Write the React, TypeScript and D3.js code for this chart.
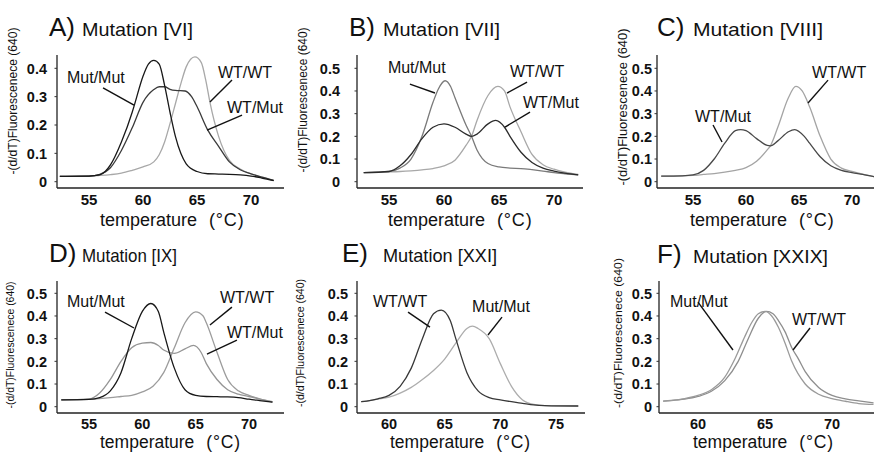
import React from 'react';
import * as d3 from 'd3';

type Pt = [number, number];

// ---------- Data (temperature °C, -(d/dT) fluorescence) ----------
// A) Mutation [VI]
const A_MUT_MUT: Pt[] = [[52.3,0.019],[54,0.02],[55,0.02],[56,0.024],[57,0.06],[58,0.14],[59,0.245],[59.2,0.27],[60,0.372],[60.5,0.415],[61,0.428],[61.5,0.415],[62,0.34],[62.5,0.245],[63,0.16],[63.5,0.1],[64,0.063],[65,0.036],[66,0.028],[67,0.027],[68,0.026],[69,0.024],[70,0.02],[71,0.013],[72.1,0.004]];
const A_WT_MUT: Pt[] = [[52.3,0.019],[55,0.02],[56,0.026],[57,0.05],[58,0.11],[59,0.19],[60,0.28],[61,0.325],[61.5,0.335],[62,0.335],[62.5,0.326],[63,0.322],[63.9,0.32],[64.5,0.3],[65,0.265],[66,0.182],[67,0.125],[68,0.07],[69,0.042],[70,0.028],[71,0.016],[72.1,0.005]];
const A_WT_WT: Pt[] = [[52.3,0.019],[55,0.02],[56,0.022],[57,0.025],[58,0.03],[59,0.04],[60,0.052],[61,0.07],[61.5,0.095],[62,0.14],[62.5,0.205],[63,0.275],[63.5,0.345],[64,0.405],[64.8,0.44],[65.4,0.42],[65.8,0.36],[66.2,0.28],[67,0.16],[68,0.075],[69,0.045],[70,0.028],[71,0.016],[72.1,0.005]];

// B) Mutation [VII]
const B_MUT_MUT: Pt[] = [[52.7,0.04],[54,0.042],[55,0.045],[56,0.06],[57,0.1],[58,0.2],[59,0.35],[59.5,0.41],[60.1,0.445],[60.6,0.42],[61,0.37],[62,0.25],[62.5,0.2],[63,0.14],[64,0.08],[65,0.065],[66,0.06],[67,0.058],[68,0.053],[69,0.047],[70,0.04],[71,0.035],[72.2,0.03]];
const B_WT_MUT: Pt[] = [[52.7,0.04],[55,0.045],[56,0.07],[57,0.12],[58,0.19],[59,0.24],[60,0.255],[61,0.24],[62,0.21],[62.5,0.2],[63,0.21],[64,0.255],[64.7,0.27],[65.5,0.24],[66,0.2],[67,0.13],[68,0.085],[69,0.06],[70,0.047],[71,0.038],[72.2,0.03]];
const B_WT_WT: Pt[] = [[52.7,0.04],[55,0.043],[56,0.045],[57,0.048],[58,0.052],[59,0.058],[60,0.07],[61,0.095],[62,0.16],[62.5,0.2],[63,0.27],[64,0.38],[64.9,0.42],[65.5,0.4],[66,0.33],[67,0.22],[68,0.12],[69,0.075],[70,0.055],[71,0.042],[72.2,0.032]];

// C) Mutation [VIII]
const C_WT_MUT: Pt[] = [[52,0.025],[54,0.026],[55,0.03],[56,0.05],[57,0.1],[58,0.17],[59,0.225],[59.5,0.23],[60,0.225],[61,0.19],[62,0.16],[62.3,0.158],[63,0.18],[64,0.22],[64.6,0.23],[65.5,0.2],[66,0.17],[67,0.11],[68,0.07],[69,0.05],[70,0.04],[71,0.032],[72.1,0.022]];
const C_WT_WT: Pt[] = [[52,0.025],[55,0.028],[56,0.032],[57,0.036],[58,0.042],[59,0.05],[60,0.062],[61,0.09],[62,0.14],[62.3,0.158],[63,0.24],[64,0.37],[64.7,0.42],[65.3,0.4],[66,0.33],[67,0.2],[68,0.1],[69,0.06],[70,0.045],[71,0.033],[72.1,0.022]];

// D) Mutation [IX]
const D_MUT_MUT: Pt[] = [[52.4,0.03],[55,0.032],[56,0.04],[57,0.07],[58,0.15],[59,0.3],[60,0.42],[60.8,0.455],[61.5,0.42],[62,0.33],[63,0.17],[64,0.075],[65,0.05],[66,0.045],[67,0.044],[68,0.043],[69,0.04],[70,0.033],[71,0.027],[72.2,0.02]];
const D_WT_MUT: Pt[] = [[52.4,0.03],[55,0.033],[56,0.06],[57,0.12],[58,0.2],[59,0.26],[60,0.28],[60.8,0.283],[61.5,0.27],[62,0.25],[63,0.235],[64,0.255],[64.8,0.27],[65.5,0.24],[66,0.19],[67,0.12],[68,0.075],[69,0.055],[70,0.045],[71,0.033],[72.2,0.02]];
const D_WT_WT: Pt[] = [[52.4,0.03],[55,0.033],[56,0.036],[57,0.04],[58,0.045],[59,0.05],[60,0.065],[61,0.09],[62,0.15],[63,0.26],[64,0.37],[65,0.418],[65.7,0.4],[66,0.37],[67,0.24],[68,0.12],[69,0.07],[70,0.05],[71,0.035],[72.2,0.022]];

// E) Mutation [XXI]
const E_WT_WT: Pt[] = [[57.5,0.022],[58,0.025],[59,0.035],[60,0.05],[61,0.09],[62,0.17],[63,0.3],[64,0.41],[64.7,0.426],[65.5,0.38],[66,0.3],[67,0.15],[68,0.07],[69,0.04],[70,0.03],[71,0.022],[72,0.015],[73,0.008],[74,0.005],[77,0.003]];
const E_MUT_MUT: Pt[] = [[57.5,0.022],[58,0.025],[59,0.033],[60,0.042],[61,0.06],[62,0.085],[63,0.12],[64,0.16],[65,0.21],[66,0.28],[67,0.345],[67.5,0.355],[68,0.345],[69,0.3],[70,0.19],[71,0.09],[72,0.03],[73,0.01],[74,0.005],[77,0.003]];

// F) Mutation [XXIX]
const F_MUT_MUT: Pt[] = [[57.4,0.025],[58,0.028],[59,0.036],[60,0.05],[61,0.075],[62,0.13],[62.75,0.21],[63.5,0.31],[64,0.37],[64.5,0.41],[65,0.42],[65.5,0.4],[66,0.35],[66.5,0.28],[67,0.2],[68,0.1],[69,0.055],[70,0.036],[71,0.024],[72,0.014],[73.1,0.01]];
const F_WT_WT: Pt[] = [[57.4,0.025],[58,0.027],[59,0.033],[60,0.045],[61,0.068],[62,0.115],[63,0.2],[63.75,0.3],[64.5,0.39],[65.1,0.42],[65.6,0.41],[66,0.38],[66.5,0.33],[67,0.26],[67.5,0.21],[68,0.155],[69,0.085],[70,0.05],[71,0.035],[72,0.026],[73.1,0.017]];

const X_TICKS_55 = [55, 60, 65, 70];
const X_TICKS_60 = [60, 65, 70, 75];
const X_TICKS_F = [60, 65, 70];
const Y_TICKS_04 = [0, 0.1, 0.2, 0.3, 0.4];
const Y_TICKS_05 = [0, 0.1, 0.2, 0.3, 0.4, 0.5];

const Y_LABEL = '-(d/dT)Fluorescenece (640)';
const X_LABEL = 'temperature';
const X_UNIT = '(°C)';

// ---------- Layout ----------
const FONT = 'Liberation Sans, Arial, Helvetica, sans-serif';

type Note = { text: string; at: Pt; from: Pt; to: Pt };
type Series = { data: Pt[]; color: string };
type Panel = {
  letter: string; title: string; titleLen: number;
  xTicks: number[]; xRef: Pt; xPx: Pt; axisX: Pt;
  yTicks: number[]; yRef: Pt; yPx: Pt; axisY: Pt;
  tickRight: number; xTickY: number;
  yLab: { cx: number; cy: number; len: number; size: number };
  letterX: number; titleX: number; titleY: number;
  xLabX: number; xLabY: number;
  series: Series[]; notes: Note[];
};

const PANELS: Panel[] = [
  {
    letter: 'A)', title: 'Mutation [VI]', titleLen: 111,
    xTicks: X_TICKS_55, xRef: [55, 70], xPx: [89, 251], axisX: [57, 284],
    yTicks: Y_TICKS_04, yRef: [0, 0.4], yPx: [181.7, 68.3], axisY: [55, 188],
    tickRight: 47, xTickY: 205,
    yLab: { cx: 13, cy: 101, len: 147, size: 12 },
    letterX: 49, titleX: 82, titleY: 36, xLabX: 100, xLabY: 225.5,
    series: [
      { data: A_WT_WT, color: '#a8a8a8' },
      { data: A_WT_MUT, color: '#3a3a3a' },
      { data: A_MUT_MUT, color: '#181818' },
    ],
    notes: [
      { text: 'Mut/Mut', at: [52.96, 0.347], from: [56.3, 0.331], to: [59.17, 0.27] },
      { text: 'WT/WT', at: [66.94, 0.366], from: [68.24, 0.359], to: [66.2, 0.281] },
      { text: 'WT/Mut', at: [67.78, 0.242], from: [69.17, 0.235], to: [65.93, 0.182] },
    ],
  },
  {
    letter: 'B)', title: 'Mutation [VII]', titleLen: 117,
    xTicks: X_TICKS_55, xRef: [55, 70], xPx: [389, 554], axisX: [357, 583],
    yTicks: Y_TICKS_05, yRef: [0, 0.5], yPx: [181.7, 68.3], axisY: [55, 188],
    tickRight: 340, xTickY: 205,
    yLab: { cx: 303, cy: 100, len: 145, size: 12 },
    letterX: 349, titleX: 383, titleY: 36, xLabX: 388, xLabY: 225.5,
    series: [
      { data: B_WT_WT, color: '#a8a8a8' },
      { data: B_MUT_MUT, color: '#7a7a7a' },
      { data: B_WT_MUT, color: '#2c2c2c' },
    ],
    notes: [
      { text: 'Mut/Mut', at: [54.9, 0.479], from: [56.9, 0.43], to: [59.18, 0.391] },
      { text: 'WT/WT', at: [66.0, 0.461], from: [67.55, 0.439], to: [65.73, 0.391] },
      { text: 'WT/Mut', at: [67.18, 0.325], from: [67.82, 0.307], to: [65.55, 0.241] },
    ],
  },
  {
    letter: 'C)', title: 'Mutation [VIII]', titleLen: 130,
    xTicks: X_TICKS_55, xRef: [55, 70], xPx: [693, 852], axisX: [657, 874],
    yTicks: Y_TICKS_05, yRef: [0, 0.5], yPx: [181.7, 68.3], axisY: [55, 188],
    tickRight: 652, xTickY: 205,
    yLab: { cx: 623, cy: 107, len: 157, size: 12.4 },
    letterX: 657, titleX: 693, titleY: 36, xLabX: 690, xLabY: 225.5,
    series: [
      { data: C_WT_WT, color: '#a4a4a4' },
      { data: C_WT_MUT, color: '#484848' },
    ],
    notes: [
      { text: 'WT/WT', at: [66.23, 0.457], from: [67.74, 0.448], to: [65.85, 0.347] },
      { text: 'WT/Mut', at: [55.19, 0.263], from: [56.89, 0.25], to: [57.74, 0.175] },
    ],
  },
  {
    letter: 'D)', title: 'Mutation [IX]', titleLen: 95,
    xTicks: X_TICKS_55, xRef: [55, 70], xPx: [89, 249], axisX: [57, 284],
    yTicks: Y_TICKS_05, yRef: [0, 0.5], yPx: [406.7, 293.3], axisY: [281, 413],
    tickRight: 47, xTickY: 429,
    yLab: { cx: 10, cy: 345, len: 127, size: 10.2 },
    letterX: 49, titleX: 82, titleY: 262, xLabX: 100, xLabY: 448,
    series: [
      { data: D_WT_WT, color: '#9c9c9c' },
      { data: D_WT_MUT, color: '#959595' },
      { data: D_MUT_MUT, color: '#181818' },
    ],
    notes: [
      { text: 'Mut/Mut', at: [52.94, 0.439], from: [56.5, 0.417], to: [59.22, 0.347] },
      { text: 'WT/WT', at: [67.28, 0.457], from: [68.4, 0.439], to: [66.34, 0.36] },
      { text: 'WT/Mut', at: [67.93, 0.303], from: [68.87, 0.294], to: [66.06, 0.232] },
    ],
  },
  {
    letter: 'E)', title: 'Mutation [XXI]', titleLen: 114,
    xTicks: X_TICKS_60, xRef: [60, 75], xPx: [389, 556], axisX: [357, 585],
    yTicks: Y_TICKS_05, yRef: [0, 0.5], yPx: [406.7, 293.3], axisY: [281, 413],
    tickRight: 348, xTickY: 429,
    yLab: { cx: 300, cy: 343, len: 128, size: 10.2 },
    letterX: 342, titleX: 383, titleY: 262, xLabX: 390, xLabY: 448,
    series: [
      { data: E_MUT_MUT, color: '#adadad' },
      { data: E_WT_WT, color: '#383838' },
    ],
    notes: [
      { text: 'WT/WT', at: [58.56, 0.439], from: [61.71, 0.417], to: [63.68, 0.351] },
      { text: 'Mut/Mut', at: [67.46, 0.417], from: [70.15, 0.395], to: [68.89, 0.316] },
    ],
  },
  {
    letter: 'F)', title: 'Mutation [XXIX]', titleLen: 135,
    xTicks: X_TICKS_F, xRef: [60, 70], xPx: [698, 832], axisX: [659, 874],
    yTicks: Y_TICKS_05, yRef: [0, 0.5], yPx: [406.7, 293.3], axisY: [281, 413],
    tickRight: 652, xTickY: 429,
    yLab: { cx: 618, cy: 333, len: 150, size: 11.8 },
    letterX: 657, titleX: 693, titleY: 263, xLabX: 693, xLabY: 448,
    series: [
      { data: F_WT_WT, color: '#8e8e8e' },
      { data: F_MUT_MUT, color: '#9a9a9a' },
    ],
    notes: [
      { text: 'Mut/Mut', at: [57.91, 0.439], from: [60.0, 0.461], to: [62.61, 0.25] },
      { text: 'WT/WT', at: [67.01, 0.36], from: [68.36, 0.347], to: [67.09, 0.25] },
    ],
  },
];

function PanelView({ p }: { p: Panel }) {
  const x = d3.scaleLinear().domain(p.xRef).range(p.xPx);
  const y = d3.scaleLinear().domain(p.yRef).range(p.yPx);
  const line = d3
    .line<Pt>()
    .x((d) => x(d[0]))
    .y((d) => y(d[1]))
    .curve(d3.curveMonotoneX);
  const fmt = (v: number) => (v === 0 ? '0' : d3.format('.1f')(v));
  const bottomRow = p.axisY[1] > 300;
  return (
    <g>
      {/* titles */}
      <text x={p.letterX} y={p.titleY} fontSize={26} fontFamily={FONT} fill="#111">
        {p.letter}
      </text>
      <text
        x={p.titleX}
        y={p.titleY}
        fontSize={19}
        fontFamily={FONT}
        fill="#111"
        textLength={p.titleLen}
        lengthAdjust="spacingAndGlyphs"
      >
        {p.title}
      </text>
      {/* y label */}
      <text
        transform={`translate(${p.yLab.cx},${p.yLab.cy}) rotate(-90)`}
        textAnchor="middle"
        dy="0.35em"
        fontSize={p.yLab.size}
        fontFamily={FONT}
        fill="#111"
        textLength={p.yLab.len}
        lengthAdjust="spacingAndGlyphs"
      >
        {Y_LABEL}
      </text>
      {/* curves */}
      {p.series.map((s, i) => (
        <path key={i} d={line(s.data) || ''} fill="none" stroke={s.color} strokeWidth={1.3} />
      ))}
      {/* axes */}
      <line x1={p.axisX[0]} x2={p.axisX[0]} y1={p.axisY[0]} y2={p.axisY[1]} stroke="#222" strokeWidth={1.3} />
      <line x1={p.axisX[0]} x2={p.axisX[1]} y1={p.axisY[1]} y2={p.axisY[1]} stroke="#222" strokeWidth={1.4} />
      {p.yTicks.map((t) => (
        <g key={t}>
          <line x1={p.axisX[0] - 2.5} x2={p.axisX[0]} y1={y(t)} y2={y(t)} stroke="#333" strokeWidth={1} />
          <text
            x={p.tickRight}
            y={y(t)}
            dy="0.36em"
            textAnchor="end"
            fontSize={14.5}
            fontWeight="bold"
            fontFamily={FONT}
            fill="#111"
          >
            {fmt(t)}
          </text>
        </g>
      ))}
      {p.xTicks.map((t) => (
        <text
          key={t}
          x={x(t)}
          y={p.xTickY}
          textAnchor="middle"
          fontSize={bottomRow ? 14.5 : 15}
          fontWeight="bold"
          fontFamily={FONT}
          fill="#111"
        >
          {t}
        </text>
      ))}
      <text x={p.xLabX} y={p.xLabY} fontSize={bottomRow ? 17.5 : 18} fontFamily={FONT} fill="#111">
        {X_LABEL}
        <tspan dx={12} letterSpacing={0.8}>
          {X_UNIT}
        </tspan>
      </text>
      {/* annotations */}
      {p.notes.map((n, i) => (
        <g key={i}>
          <text x={x(n.at[0])} y={y(n.at[1])} fontSize={16} fontFamily={FONT} fill="#111">
            {n.text}
          </text>
          <line
            x1={x(n.from[0])}
            y1={y(n.from[1])}
            x2={x(n.to[0])}
            y2={y(n.to[1])}
            stroke="#111"
            strokeWidth={1.4}
          />
        </g>
      ))}
    </g>
  );
}

export default function App() {
  return (
    <svg
      width={874}
      height={452}
      viewBox="0 0 874 452"
      style={{ position: 'absolute', left: 0, top: 0, background: '#fff' }}
    >
      <rect width={874} height={452} fill="#fff" />
      {PANELS.map((p, i) => (
        <PanelView key={i} p={p} />
      ))}
    </svg>
  );
}
